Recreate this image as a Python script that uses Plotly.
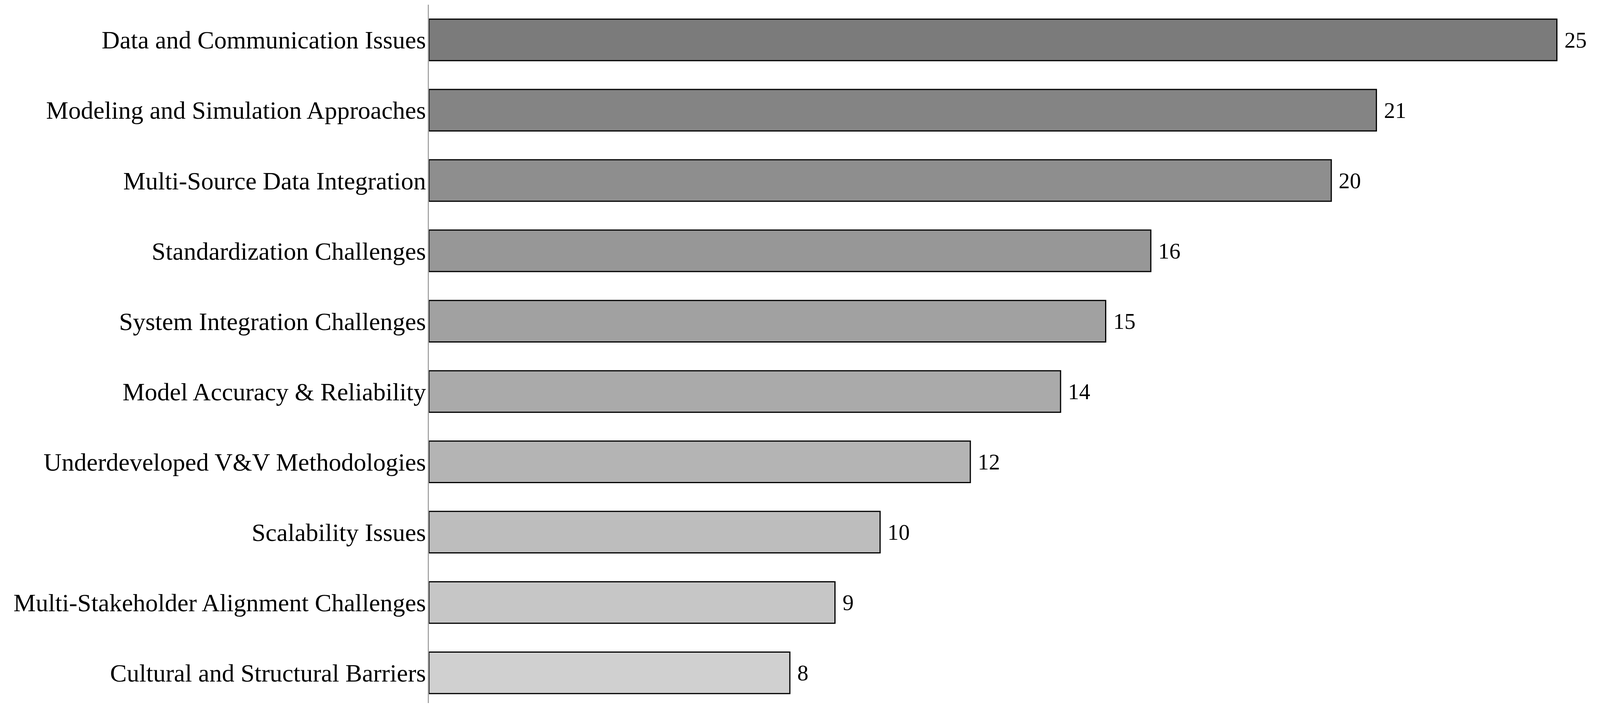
import plotly.graph_objects as go

# categories top to bottom, counts
categories = [
    "Data and Communication Issues",
    "Modeling and Simulation Approaches",
    "Multi-Source Data Integration",
    "Standardization Challenges",
    "System Integration Challenges",
    "Model Accuracy & Reliability",
    "Underdeveloped V&V Methodologies",
    "Scalability Issues",
    "Multi-Stakeholder Alignment Challenges",
    "Cultural and Structural Barriers",
]
counts = [25, 21, 20, 16, 15, 14, 12, 10, 9, 8]

# gray ramp, darkest for the largest bar
grays = ["#7b7b7b", "#848484", "#8e8e8e", "#979797", "#a1a1a1",
         "#aaaaaa", "#b4b4b4", "#bdbdbd", "#c6c6c6", "#d0d0d0"]

FONT = "Liberation Serif, Times New Roman, serif"

# page is seen as ~4089 x 1800 css px, body margin 8px
W = 4081
H = 1792

fig = go.Figure()
fig.add_trace(go.Bar(
    y=categories,
    x=counts,
    orientation="h",
    marker=dict(color=grays, line=dict(color="black", width=3)),
    width=0.59,
    hoverinfo="x+y",
))

# value labels just right of each bar
for cat, val in zip(categories, counts):
    fig.add_annotation(x=val, y=cat, text=str(val), showarrow=False,
                       xanchor="left", xshift=17,
                       font=dict(family=FONT, size=57, color="black"))

fig.update_layout(
    width=W,
    height=H,
    margin=dict(l=1090, r=11, t=4, b=0, pad=0),
    plot_bgcolor="white",
    paper_bgcolor="white",
    showlegend=False,
    font=dict(family=FONT, color="black"),
    xaxis=dict(range=[0, 25.8], visible=False, showgrid=False, zeroline=False),
    yaxis=dict(
        type="category",
        categoryorder="array",
        categoryarray=categories,
        range=[9.43, -0.5],
        showline=True,
        linecolor="#a6a6a6",
        linewidth=2.6,
        ticks="",
        ticklen=0,
        showgrid=False,
        zeroline=False,
        tickfont=dict(family=FONT, size=64, color="black"),
        ticklabelstandoff=-8,
    ),
)

fig.write_html("out.html")
